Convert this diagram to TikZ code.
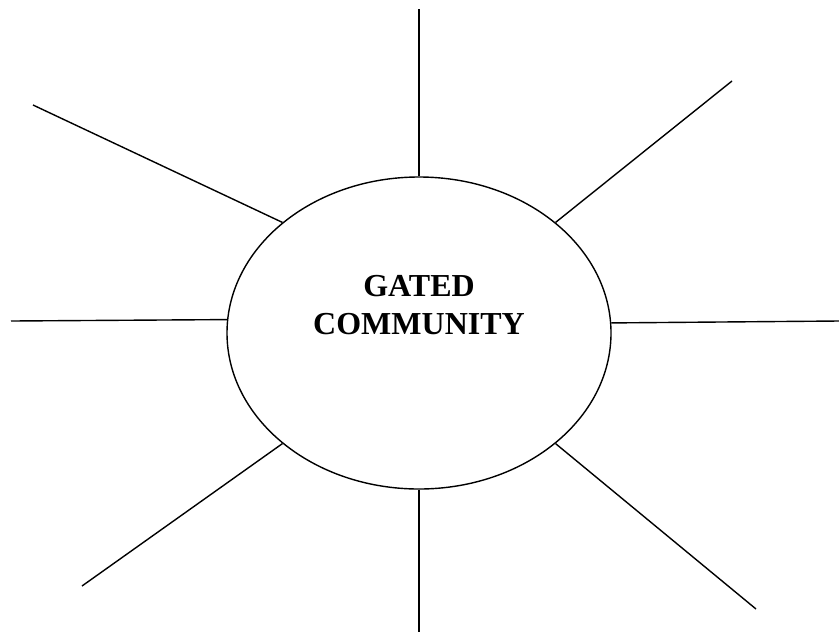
\documentclass[tikz,border=0pt]{standalone}
\usepackage{fontspec}
\setmainfont{Liberation Serif}
\usetikzlibrary{shapes.geometric}

\begin{document}
\begin{tikzpicture}[
    x=0.5pt, y=-0.5pt,
    hub/.style={draw, ellipse, line width=0.7pt, minimum width=192pt, minimum height=156pt, inner sep=0pt},
    title/.style={font=\fontsize{16}{19}\selectfont\bfseries, align=center, inner sep=0pt},
    spoke/.style={line width=0.7pt},
]
\useasboundingbox (0,0) rectangle (839,632);

% --- Centre ellipse ---
\node[hub] (hub) at (419,333) {};
\node[title] (name) at (419,305.5) {GATED\\COMMUNITY};

% --- Free ends of the spokes ---
\coordinate (endN) at (419,9);
\coordinate (endNE) at (732,81);
\coordinate (endE) at (839,321);
\coordinate (endSE) at (756,609);
\coordinate (endS) at (419,632);
\coordinate (endSW) at (82,586);
\coordinate (endW) at (11,321);
\coordinate (endNW) at (33,105);

% --- Spokes ---
\draw[spoke] (hub.north) -- (endN);
\draw[spoke] (hub.39) -- (endNE);
\draw[spoke] (hub.3.6) -- (endE);
\draw[spoke] (hub.-39) -- (endSE);
\draw[spoke] (hub.south) -- (endS);
\draw[spoke] (hub.219) -- (endSW);
\draw[spoke] (hub.176.4) -- (endW);
\draw[spoke] (hub.141) -- (endNW);

\end{tikzpicture}
\end{document}
